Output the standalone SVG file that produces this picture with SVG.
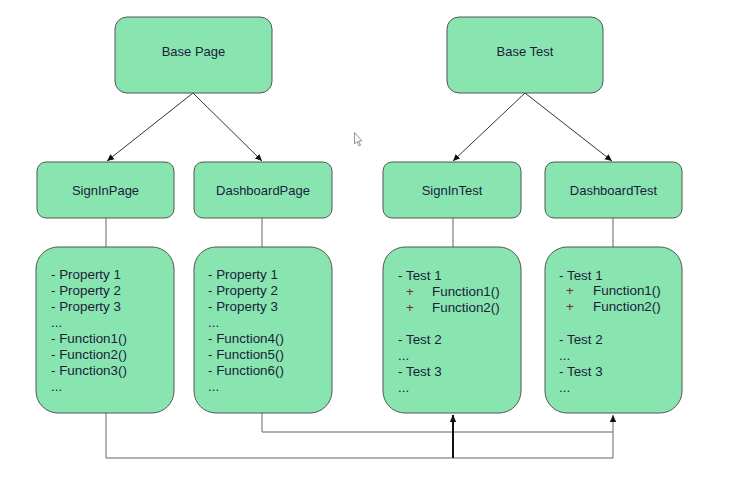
<svg xmlns="http://www.w3.org/2000/svg" width="730" height="481" viewBox="0 0 730 481">
<style>
.box{fill:#88e5b0;stroke:#555;stroke-width:1}
.t{font-family:"Liberation Sans",Arial,sans-serif;font-size:13px;fill:#1c1c3c}
.m{font-size:13.4px}
.c{text-anchor:middle}
.p{fill:#7e2a14}
.ln{fill:none;stroke:#333;stroke-width:1}
.gl{fill:none;stroke:#666;stroke-width:1}
</style>
<defs>
<marker id="ah" markerWidth="8" markerHeight="8" refX="7" refY="4" orient="auto" markerUnits="userSpaceOnUse">
<path d="M0,0.8 L7,4 L0,7.2 Z" fill="#111"/>
</marker>
</defs>
<rect width="730" height="481" fill="#fff"/>
<g id="connectors">
<line class="ln" x1="193" y1="93" x2="107" y2="161" marker-end="url(#ah)"/>
<line class="ln" x1="193" y1="93" x2="262" y2="161" marker-end="url(#ah)"/>
<line class="ln" x1="525" y1="93" x2="453" y2="161" marker-end="url(#ah)"/>
<line class="ln" x1="525" y1="93" x2="612" y2="161" marker-end="url(#ah)"/>
<line class="gl" x1="106" y1="218" x2="106" y2="247"/>
<line class="gl" x1="262" y1="218" x2="262" y2="247"/>
<line class="gl" x1="453" y1="218" x2="453" y2="247"/>
<line class="gl" x1="613" y1="218" x2="613" y2="247"/>
<polyline class="gl" points="106,413 106,458 613,458"/>
<polyline class="gl" points="262,413 262,432 613,432"/>
<line class="gl" x1="613" y1="458" x2="613" y2="415" marker-end="url(#ah)"/>
<line x1="453" y1="458" x2="453" y2="415" stroke="#111" stroke-width="2" marker-end="url(#ah)"/>
</g>
<g id="base-page"><rect class="box" x="115" y="17" width="157" height="76" rx="12"/><text class="t c" x="193.5" y="56">Base Page</text></g>
<g id="base-test"><rect class="box" x="447" y="17" width="156" height="76" rx="12"/><text class="t c" x="525" y="56">Base Test</text></g>
<g id="signin-page"><rect class="box" x="37" y="162" width="137" height="56" rx="9"/><text class="t c" x="105.5" y="195">SignInPage</text></g>
<g id="dashboard-page"><rect class="box" x="194" y="162" width="138" height="56" rx="9"/><text class="t c" x="263" y="195">DashboardPage</text></g>
<g id="signin-test"><rect class="box" x="383" y="162" width="138" height="56" rx="9"/><text class="t c" x="452" y="195">SignInTest</text></g>
<g id="dashboard-test"><rect class="box" x="545" y="162" width="137" height="56" rx="9"/><text class="t c" x="613.5" y="195">DashboardTest</text></g>
<g id="signin-page-members"><rect class="box" x="36" y="247" width="138" height="166" rx="22"/>
<text class="t m" x="51" y="279">- Property 1</text>
<text class="t m" x="51" y="295">- Property 2</text>
<text class="t m" x="51" y="311">- Property 3</text>
<text class="t m" x="51" y="327">...</text>
<text class="t m" x="51" y="343">- Function1()</text>
<text class="t m" x="51" y="359">- Function2()</text>
<text class="t m" x="51" y="375">- Function3()</text>
<text class="t m" x="51" y="391">...</text>
</g>
<g id="dashboard-page-members"><rect class="box" x="194" y="247" width="138" height="166" rx="22"/>
<text class="t m" x="208" y="279">- Property 1</text>
<text class="t m" x="208" y="295">- Property 2</text>
<text class="t m" x="208" y="311">- Property 3</text>
<text class="t m" x="208" y="327">...</text>
<text class="t m" x="208" y="343">- Function4()</text>
<text class="t m" x="208" y="359">- Function5()</text>
<text class="t m" x="208" y="375">- Function6()</text>
<text class="t m" x="208" y="391">...</text>
</g>
<g id="signin-test-members"><rect class="box" x="383" y="247" width="138" height="166" rx="22"/>
<text class="t m" x="398" y="280">- Test 1</text>
<text class="t m p" x="406" y="296">+</text><text class="t m" x="432" y="296">Function1()</text>
<text class="t m p" x="406" y="312">+</text><text class="t m" x="432" y="312">Function2()</text>
<text class="t m" x="398" y="344">- Test 2</text>
<text class="t m" x="398" y="360">...</text>
<text class="t m" x="398" y="376">- Test 3</text>
<text class="t m" x="398" y="392">...</text>
</g>
<g id="dashboard-test-members"><rect class="box" x="545" y="247" width="137" height="166" rx="22"/>
<text class="t m" x="559" y="280">- Test 1</text>
<text class="t m p" x="566" y="295">+</text><text class="t m" x="593" y="295">Function1()</text>
<text class="t m p" x="566" y="311">+</text><text class="t m" x="593" y="311">Function2()</text>
<text class="t m" x="559" y="344">- Test 2</text>
<text class="t m" x="559" y="360">...</text>
<text class="t m" x="559" y="376">- Test 3</text>
<text class="t m" x="559" y="392">...</text>
</g>
<path d="M354.5,132.5 L354.5,144 L357,141.5 L359,146 L360.5,145.3 L358.7,141 L362,141 Z" fill="#fff" stroke="#777" stroke-width="0.8"/>
</svg>
